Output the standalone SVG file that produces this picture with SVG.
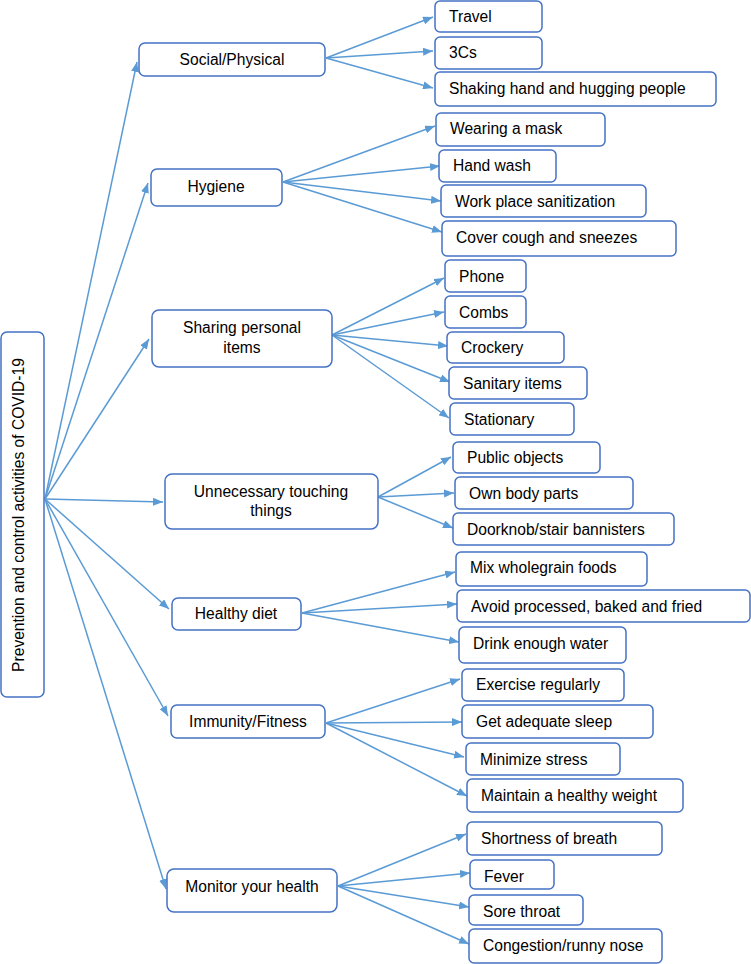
<svg xmlns="http://www.w3.org/2000/svg" width="751" height="964" viewBox="0 0 751 964">
<defs>
<marker id="ah" markerUnits="userSpaceOnUse" markerWidth="10" markerHeight="8" refX="10" refY="4" orient="auto">
<path d="M0,0 L10,4 L0,8 Z" fill="#5B9BD5"/>
</marker>
<style>
.b{fill:#fff;stroke:#4472C4;stroke-width:1.5}
.t{font-family:"Liberation Sans",Arial,sans-serif;font-size:15.6px;fill:#000}
.c{text-anchor:middle}
.e line{stroke:#5B9BD5;stroke-width:1.5;marker-end:url(#ah)}
</style>
</defs>
<rect width="751" height="964" fill="#fff"/>
<g class="e" id="connectors">
<line x1="45" y1="499" x2="137" y2="62"/>
<line x1="45" y1="499" x2="148" y2="183"/>
<line x1="45" y1="499" x2="149" y2="339"/>
<line x1="45" y1="499" x2="163" y2="502"/>
<line x1="45" y1="499" x2="169" y2="609"/>
<line x1="45" y1="499" x2="168" y2="716"/>
<line x1="45" y1="499" x2="166" y2="889"/>
<line x1="326" y1="58" x2="433" y2="17"/>
<line x1="326" y1="58" x2="433" y2="51"/>
<line x1="326" y1="58" x2="433" y2="88"/>
<line x1="283" y1="182" x2="435" y2="126"/>
<line x1="283" y1="182" x2="440" y2="166"/>
<line x1="283" y1="182" x2="441" y2="201"/>
<line x1="283" y1="182" x2="442" y2="232"/>
<line x1="332" y1="335" x2="444" y2="278"/>
<line x1="332" y1="335" x2="444" y2="312"/>
<line x1="332" y1="335" x2="448" y2="346"/>
<line x1="332" y1="335" x2="450" y2="382"/>
<line x1="332" y1="335" x2="449" y2="418"/>
<line x1="378" y1="497" x2="451" y2="457"/>
<line x1="378" y1="497" x2="454" y2="493"/>
<line x1="378" y1="497" x2="453" y2="528"/>
<line x1="302" y1="613" x2="455" y2="572"/>
<line x1="302" y1="613" x2="457" y2="604"/>
<line x1="302" y1="613" x2="459" y2="642"/>
<line x1="326" y1="723" x2="460" y2="679"/>
<line x1="326" y1="723" x2="462" y2="722"/>
<line x1="326" y1="723" x2="464" y2="757"/>
<line x1="326" y1="723" x2="467" y2="796"/>
<line x1="338" y1="886" x2="466" y2="834"/>
<line x1="338" y1="886" x2="470" y2="873"/>
<line x1="338" y1="886" x2="469" y2="907"/>
<line x1="338" y1="886" x2="469" y2="944"/>
</g>
<g id="root"><rect class="b" x="1" y="332" width="43" height="365" rx="6"/><text class="t c" transform="translate(23.5,515) rotate(-90)">Prevention and control activities of COVID-19</text></g>
<g id="social"><rect class="b" x="139" y="43" width="186" height="33" rx="6"/><text class="t c" x="232" y="65">Social/Physical</text></g>
<g id="hygiene"><rect class="b" x="151" y="169" width="131" height="37" rx="6"/><text class="t c" x="216" y="192">Hygiene</text></g>
<g id="sharing"><rect class="b" x="152" y="310" width="180" height="57" rx="7"/><text class="t c" x="242" y="333">Sharing personal</text><text class="t c" x="242" y="353">items</text></g>
<g id="touching"><rect class="b" x="165" y="474" width="213" height="55" rx="7"/><text class="t c" x="271" y="497">Unnecessary touching</text><text class="t c" x="271" y="516">things</text></g>
<g id="diet"><rect class="b" x="172" y="598" width="129" height="32" rx="6"/><text class="t c" x="236" y="619">Healthy diet</text></g>
<g id="immunity"><rect class="b" x="171" y="705" width="154" height="33" rx="6"/><text class="t c" x="248" y="727">Immunity/Fitness</text></g>
<g id="monitor"><rect class="b" x="167" y="869" width="170" height="43" rx="7"/><text class="t c" x="252" y="892">Monitor your health</text></g>
<g id="travel"><rect class="b" x="435" y="1" width="107" height="31" rx="5"/><text class="t" x="449" y="22">Travel</text></g>
<g id="c3"><rect class="b" x="435" y="37" width="107" height="32" rx="5"/><text class="t" x="449" y="58">3Cs</text></g>
<g id="shaking"><rect class="b" x="435" y="72" width="281" height="34" rx="5"/><text class="t" x="449" y="94">Shaking hand and hugging people</text></g>
<g id="mask"><rect class="b" x="436" y="113" width="169" height="33" rx="5"/><text class="t" x="450" y="134">Wearing a mask</text></g>
<g id="handwash"><rect class="b" x="439" y="150" width="117" height="32" rx="5"/><text class="t" x="453" y="171">Hand wash</text></g>
<g id="workplace"><rect class="b" x="441" y="185" width="205" height="32" rx="5"/><text class="t" x="455" y="207">Work place sanitization</text></g>
<g id="cough"><rect class="b" x="442" y="221" width="234" height="35" rx="5"/><text class="t" x="456" y="243">Cover cough and sneezes</text></g>
<g id="phone"><rect class="b" x="445" y="260" width="81" height="32" rx="5"/><text class="t" x="459" y="282">Phone</text></g>
<g id="combs"><rect class="b" x="445" y="296" width="81" height="32" rx="5"/><text class="t" x="459" y="318">Combs</text></g>
<g id="crockery"><rect class="b" x="447" y="332" width="117" height="31" rx="5"/><text class="t" x="461" y="353">Crockery</text></g>
<g id="sanitary"><rect class="b" x="449" y="367" width="138" height="32" rx="5"/><text class="t" x="463" y="389">Sanitary items</text></g>
<g id="stationary"><rect class="b" x="450" y="403" width="124" height="32" rx="5"/><text class="t" x="464" y="425">Stationary</text></g>
<g id="public"><rect class="b" x="453" y="442" width="147" height="31" rx="5"/><text class="t" x="467" y="463">Public objects</text></g>
<g id="ownbody"><rect class="b" x="455" y="477" width="178" height="32" rx="5"/><text class="t" x="469" y="499">Own body parts</text></g>
<g id="doorknob"><rect class="b" x="453" y="513" width="221" height="32" rx="5"/><text class="t" x="467" y="535">Doorknob/stair bannisters</text></g>
<g id="wholegrain"><rect class="b" x="456" y="552" width="191" height="34" rx="5"/><text class="t" x="470" y="573">Mix wholegrain foods</text></g>
<g id="processed"><rect class="b" x="457" y="590" width="293" height="32" rx="5"/><text class="t" x="471" y="612">Avoid processed, baked and fried</text></g>
<g id="water"><rect class="b" x="459" y="627" width="167" height="36" rx="5"/><text class="t" x="473" y="649">Drink enough water</text></g>
<g id="exercise"><rect class="b" x="462" y="669" width="162" height="32" rx="5"/><text class="t" x="476" y="690">Exercise regularly</text></g>
<g id="sleep"><rect class="b" x="462" y="705" width="191" height="33" rx="5"/><text class="t" x="476" y="727">Get adequate sleep</text></g>
<g id="stress"><rect class="b" x="466" y="743" width="154" height="32" rx="5"/><text class="t" x="480" y="765">Minimize stress</text></g>
<g id="weight"><rect class="b" x="467" y="779" width="216" height="33" rx="5"/><text class="t" x="481" y="801">Maintain a healthy weight</text></g>
<g id="breath"><rect class="b" x="467" y="822" width="195" height="33" rx="5"/><text class="t" x="481" y="844">Shortness of breath</text></g>
<g id="fever"><rect class="b" x="470" y="860" width="84" height="29" rx="5"/><text class="t" x="484" y="882">Fever</text></g>
<g id="throat"><rect class="b" x="469" y="895" width="114" height="30" rx="5"/><text class="t" x="483" y="917">Sore throat</text></g>
<g id="congestion"><rect class="b" x="469" y="929" width="193" height="34" rx="5"/><text class="t" x="483" y="951">Congestion/runny nose</text></g>
</svg>
